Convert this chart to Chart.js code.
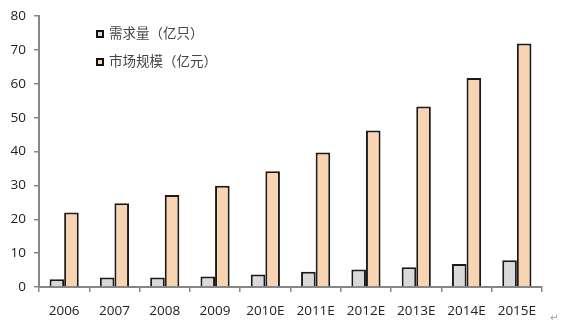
<!DOCTYPE html>
<html>
<head>
<meta charset="utf-8">
<script src="https://cdn.jsdelivr.net/npm/chart.js@4"></script>
<style>
  html, body { margin: 0; padding: 0; background: #fff; }
  #wrap { position: relative; width: 562px; height: 332px; }
  .legend { position: absolute; left: 96px; font: 13.5px "Noto Sans CJK SC", sans-serif; color: #444; }
  .legend div { height: 28px; line-height: 28px; white-space: nowrap; }
  .legend span.box { display: inline-block; box-sizing: border-box; width: 8px; height: 8px; border: 2px solid #111; margin-right: 5px; vertical-align: 0px; }
  .mark { position: absolute; left: 550px; top: 312px; font: 10px "DejaVu Sans", sans-serif; color: #999; }
</style>
</head>
<body>
<div id="wrap">
  <canvas id="chart" width="562" height="332"></canvas>
  <div class="legend" style="top: 18px;">
    <div><span class="box" style="background:#d9d9d9"></span>需求量（亿只）</div>
    <div><span class="box" style="background:#f9d4b2"></span>市场规模（亿元）</div>
  </div>
  <div class="mark">↵</div>
</div>
<script>
  // Years (E = estimate)
  const years = ['2006', '2007', '2008', '2009', '2010E', '2011E', '2012E', '2013E', '2014E', '2015E'];
  // Demand, 100 million units
  const demand = [2.3, 2.8, 2.8, 3.1, 3.7, 4.5, 5.2, 5.8, 6.8, 7.9];
  // Market size, 100 million yuan
  const marketSize = [22.0, 24.7, 27.2, 29.9, 34.2, 39.7, 46.2, 53.3, 61.7, 71.9];

  const tickFont = { family: '"Open Sans", sans-serif', size: 13.5 };

  new Chart(document.getElementById('chart').getContext('2d'), {
    type: 'bar',
    data: {
      labels: years,
      datasets: [
        {
          label: '需求量（亿只）',
          data: demand,
          backgroundColor: '#d9d9d9',
          borderColor: '#1a1a1a',
          borderWidth: 2,
          categoryPercentage: 0.58,
          barPercentage: 1
        },
        {
          label: '市场规模（亿元）',
          data: marketSize,
          backgroundColor: '#f9d4b2',
          borderColor: '#1a1a1a',
          borderWidth: 2,
          categoryPercentage: 0.58,
          barPercentage: 1
        }
      ]
    },
    options: {
      responsive: false,
      animation: false,
      layout: { padding: { top: 13, right: 20, left: 0, bottom: 0 } },
      plugins: {
        legend: { display: false },
        tooltip: { enabled: false }
      },
      scales: {
        x: {
          offset: true,
          grid: { display: true, drawOnChartArea: false, offset: true, tickLength: 5, color: '#888', lineWidth: 1.5 },
          border: { color: '#868686', width: 2 },
          ticks: { color: '#222', font: tickFont, padding: 11, maxRotation: 0 },
          afterFit: (axis) => { axis.height = 45; }
        },
        y: {
          min: 0,
          max: 80,
          grid: { display: true, drawOnChartArea: false, tickLength: 5, color: '#888', lineWidth: 1.5 },
          border: { color: '#868686', width: 2 },
          ticks: { stepSize: 10, color: '#222', font: tickFont, padding: 8 },
          afterFit: (axis) => { axis.width = 39; }
        }
      }
    }
  });
</script>
</body>
</html>
